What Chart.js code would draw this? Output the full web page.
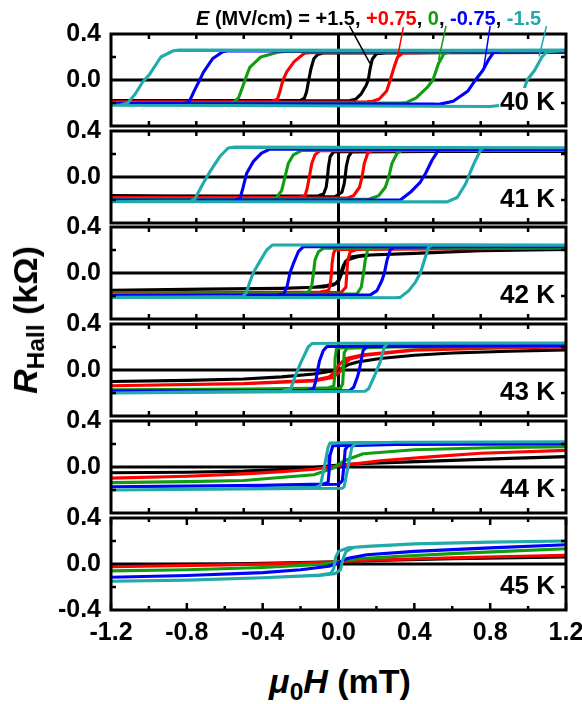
<!DOCTYPE html>
<html><head><meta charset="utf-8">
<script src="https://cdn.jsdelivr.net/npm/chart.js@4/dist/chart.umd.min.js"></script>
<style>
html,body{margin:0;padding:0;background:#fff;}
#wrap{position:relative;width:582px;height:704px;overflow:hidden;font-family:'Liberation Sans',Arial,sans-serif;font-weight:bold;color:#000;}
canvas{position:absolute;left:0;}
.tlab{position:absolute;right:26px;font-size:26px;line-height:26px;background:#fff;padding:0 1px;white-space:nowrap;}
#legend{position:absolute;left:196px;top:6px;font-size:20px;line-height:24px;white-space:nowrap;}
#ytitle{position:absolute;left:27px;top:320px;font-size:34px;line-height:36px;white-space:nowrap;transform:translate(-50%,-50%) rotate(-90deg);}
#xtitle{position:absolute;left:340px;top:683px;font-size:34px;line-height:36px;white-space:nowrap;transform:translate(-50%,-50%);}
.sb{font-size:0.72em;position:relative;top:0.3em;}
</style></head>
<body><div id="wrap">
<div id="legend"><i>E</i> (MV/cm) = +1.5, <span style="color:#ff0000">+0.75</span>, <span style="color:#109e10">0</span>, <span style="color:#0000ff">-0.75</span>, <span style="color:#22aaaa">-1.5</span></div>
<div id="ytitle"><i>R</i><span class="sb">Hall</span> (kΩ)</div>
<div id="xtitle"><i>μ</i><span class="sb">0</span><i>H</i> (mT)</div>
</div>
<script>
// ---------- data (x in mT, y in kOhm) ----------
const fieldLabels = ['+1.5', '+0.75', '0', '-0.75', '-1.5'];
const tempLabels = ['40 K', '41 K', '42 K', '43 K', '44 K', '45 K'];
const yTickLabels = ['-0.4', '0.0', '0.4'];
const xTickLabels = ['-1.2', '-0.8', '-0.4', '0.0', '0.4', '0.8', '1.2'];
const upperXTicks = [-1.0, -0.75, -0.5, -0.25, 0.25, 0.5, 0.75, 1.0];

// 40 K
const T40_p150 = [[1.2,0.24],[0.6,0.238],[-0.08,0.235],[-0.11,0.222],[-0.13,0.185],[-0.145,0.1],[-0.157,0],[-0.168,-0.1],[-0.18,-0.158],[-0.2,-0.176],[-0.6,-0.178],[-1.2,-0.178],[-0.6,-0.18],[0.06,-0.178],[0.09,-0.168],[0.12,-0.12],[0.145,-0.05],[0.157,0],[0.167,0.1],[0.178,0.18],[0.2,0.228],[0.25,0.236],[0.6,0.238],[1.2,0.24]];
const T40_p075 = [[1.2,0.245],[0.6,0.242],[-0.15,0.238],[-0.18,0.232],[-0.234,0.16],[-0.273,0.07],[-0.293,0],[-0.308,-0.095],[-0.322,-0.165],[-0.35,-0.187],[-0.7,-0.19],[-1.2,-0.19],[-0.6,-0.192],[0.15,-0.19],[0.18,-0.185],[0.215,-0.165],[0.254,-0.095],[0.273,0],[0.293,0.11],[0.312,0.2],[0.34,0.235],[0.6,0.242],[1.2,0.245]];
const T40_0 = [[1.2,0.25],[0.6,0.248],[-0.28,0.248],[-0.32,0.242],[-0.41,0.2],[-0.468,0.11],[-0.488,0.024],[-0.507,-0.065],[-0.527,-0.154],[-0.556,-0.198],[-0.8,-0.2],[-1.2,-0.2],[-0.6,-0.2],[0.33,-0.2],[0.36,-0.195],[0.41,-0.155],[0.468,-0.065],[0.498,0],[0.527,0.142],[0.556,0.228],[0.59,0.246],[0.8,0.249],[1.2,0.25]];
const T40_m075 = [[1.2,0.252],[0.6,0.252],[-0.58,0.255],[-0.61,0.245],[-0.663,0.187],[-0.712,0.068],[-0.732,0],[-0.761,-0.095],[-0.79,-0.198],[-0.82,-0.205],[-1.2,-0.205],[-0.6,-0.207],[0.5,-0.21],[0.53,-0.212],[0.605,-0.184],[0.683,-0.095],[0.722,0],[0.761,0.083],[0.79,0.172],[0.82,0.244],[0.86,0.252],[1.2,0.252]];
const T40_m150 = [[1.2,0.26],[0.6,0.258],[-0.84,0.26],[-0.87,0.255],[-0.937,0.2],[-0.995,0.053],[-1.034,-0.02],[-1.073,-0.124],[-1.112,-0.2],[-1.15,-0.218],[-1.2,-0.22],[-0.6,-0.222],[0.8,-0.23],[0.917,-0.21],[0.976,-0.095],[0.995,0],[1.034,0.083],[1.073,0.2],[1.1,0.246],[1.2,0.26]];
// 41 K
const T41_p150 = [[1.2,0.222],[0.5,0.222],[0,0.221],[-0.026,0.218],[-0.044,0.178],[-0.053,0.089],[-0.058,0],[-0.065,-0.089],[-0.079,-0.148],[-0.106,-0.163],[-0.6,-0.165],[-1.2,-0.163],[-0.6,-0.168],[-0.02,-0.172],[0.018,-0.133],[0.03,-0.06],[0.035,0],[0.041,0.089],[0.053,0.178],[0.07,0.218],[0.5,0.222],[1.2,0.222]];
const T41_p075 = [[1.2,0.23],[0.5,0.23],[-0.097,0.229],[-0.124,0.193],[-0.141,0.118],[-0.154,0],[-0.164,-0.089],[-0.176,-0.163],[-0.212,-0.178],[-0.7,-0.178],[-1.2,-0.178],[-0.6,-0.18],[0.044,-0.184],[0.079,-0.163],[0.111,-0.089],[0.124,0],[0.136,0.118],[0.154,0.207],[0.176,0.229],[0.6,0.23],[1.2,0.23]];
const T41_0 = [[1.2,0.235],[0.5,0.233],[-0.194,0.231],[-0.238,0.193],[-0.265,0.118],[-0.282,0],[-0.3,-0.119],[-0.326,-0.178],[-0.362,-0.19],[-0.8,-0.19],[-1.2,-0.19],[-0.6,-0.19],[0.159,-0.193],[0.212,-0.163],[0.247,-0.089],[0.265,0],[0.282,0.118],[0.309,0.207],[0.335,0.231],[0.7,0.234],[1.2,0.235]];
const T41_m075 = [[1.2,0.24],[0.5,0.24],[-0.362,0.243],[-0.406,0.207],[-0.45,0.133],[-0.485,0.03],[-0.503,-0.089],[-0.52,-0.19],[-0.55,-0.2],[-1.2,-0.2],[-0.6,-0.2],[0.326,-0.2],[0.379,-0.133],[0.432,-0.044],[0.459,0.03],[0.494,0.148],[0.529,0.237],[0.8,0.24],[1.2,0.24]];
const T41_m150 = [[1.2,0.255],[0.5,0.256],[-0.547,0.26],[-0.582,0.252],[-0.626,0.178],[-0.679,0.044],[-0.715,-0.059],[-0.759,-0.193],[-0.78,-0.21],[-1.2,-0.215],[-0.6,-0.215],[0.573,-0.216],[0.626,-0.178],[0.671,-0.059],[0.688,0.015],[0.715,0.119],[0.75,0.237],[0.768,0.255],[1.2,0.255]];
// 42 K
const T42_p150 = [[1.2,0.205],[0.75,0.194],[0.4,0.17],[0.17,0.156],[0.1,0.141],[0.045,0.112],[0.026,0.068],[0.012,0],[0,-0.065],[-0.018,-0.094],[-0.062,-0.109],[-0.13,-0.124],[-0.3,-0.135],[-0.7,-0.14],[-1.2,-0.15],[-0.7,-0.14],[-0.3,-0.132],[-0.08,-0.122],[-0.026,-0.105],[0,-0.075],[0.018,0],[0.035,0.097],[0.062,0.138],[0.13,0.155],[0.4,0.172],[0.75,0.195],[1.2,0.205]];
const T42_p075 = [[1.2,0.215],[0.5,0.21],[0.1,0.206],[-0.018,0.203],[-0.026,0.171],[-0.034,0.082],[-0.037,0],[-0.044,-0.109],[-0.053,-0.153],[-0.097,-0.165],[-0.5,-0.17],[-1.2,-0.172],[-0.5,-0.17],[0.015,-0.168],[0.039,-0.124],[0.044,0],[0.049,0.112],[0.062,0.185],[0.097,0.205],[0.5,0.21],[1.2,0.215]];
const T42_0 = [[1.2,0.22],[0.5,0.218],[-0.079,0.215],[-0.106,0.185],[-0.124,0.112],[-0.132,0],[-0.141,-0.109],[-0.159,-0.168],[-0.194,-0.178],[-0.6,-0.18],[-1.2,-0.182],[-0.6,-0.182],[0.097,-0.182],[0.12,-0.124],[0.132,0],[0.141,0.112],[0.154,0.205],[0.18,0.216],[0.6,0.218],[1.2,0.22]];
const T42_m075 = [[1.2,0.228],[0.5,0.228],[-0.185,0.229],[-0.212,0.185],[-0.238,0.082],[-0.256,0],[-0.27,-0.109],[-0.288,-0.182],[-0.32,-0.19],[-1.2,-0.195],[-0.6,-0.196],[0.168,-0.19],[0.203,-0.153],[0.229,-0.065],[0.242,0],[0.256,0.112],[0.273,0.2],[0.291,0.224],[0.6,0.228],[1.2,0.228]];
const T42_m150 = [[1.2,0.242],[0.5,0.245],[-0.348,0.244],[-0.379,0.2],[-0.432,0.053],[-0.45,0],[-0.468,-0.079],[-0.485,-0.168],[-0.503,-0.205],[-0.8,-0.21],[-1.2,-0.212],[-0.6,-0.212],[0.3,-0.215],[0.326,-0.212],[0.371,-0.153],[0.406,-0.079],[0.432,0],[0.459,0.141],[0.476,0.229],[0.5,0.244],[1.2,0.242]];
// 43 K
const T43_p150 = [[-1.2,-0.1],[-0.8,-0.09],[-0.5,-0.078],[-0.3,-0.06],[-0.13,-0.035],[0,0],[0.05,0.045],[0.1,0.07],[0.22,0.1],[0.4,0.128],[0.6,0.148],[0.9,0.163],[1.2,0.175]];
const T43_p075 = [[1.2,0.2],[0.8,0.192],[0.4,0.175],[0.13,0.132],[0.04,0.1],[0,0.04],[-0.02,-0.02],[-0.05,-0.06],[-0.13,-0.09],[-0.5,-0.117],[-1.2,-0.137],[-0.5,-0.12],[-0.13,-0.095],[-0.03,-0.065],[0.01,-0.01],[0.03,0.05],[0.06,0.095],[0.14,0.128],[0.4,0.172],[0.8,0.19],[1.2,0.2]];
const T43_0 = [[1.2,0.205],[0.3,0.2],[0.05,0.195],[-0.01,0.19],[-0.018,0.1],[-0.02,-0.05],[-0.025,-0.14],[-0.06,-0.158],[-0.5,-0.166],[-1.2,-0.172],[-0.5,-0.168],[0.01,-0.16],[0.022,-0.12],[0.026,0],[0.03,0.15],[0.045,0.19],[0.3,0.2],[1.2,0.205]];
const T43_m075 = [[1.2,0.212],[0.2,0.21],[-0.06,0.205],[-0.08,0.17],[-0.1,0.08],[-0.11,0],[-0.12,-0.1],[-0.132,-0.162],[-0.16,-0.176],[-1.2,-0.182],[-0.5,-0.18],[0.06,-0.178],[0.08,-0.15],[0.1,-0.06],[0.11,0],[0.12,0.09],[0.13,0.17],[0.15,0.205],[1.2,0.212]];
const T43_m150 = [[1.2,0.235],[0,0.232],[-0.14,0.23],[-0.16,0.2],[-0.2,0.06],[-0.23,-0.06],[-0.252,-0.165],[-0.3,-0.185],[-0.8,-0.192],[-1.2,-0.2],[-0.6,-0.192],[0.14,-0.185],[0.16,-0.16],[0.19,-0.05],[0.22,0.07],[0.242,0.2],[0.26,0.232],[0.6,0.235],[1.2,0.235]];
// 44 K
const T44_p150 = [[-1.2,-0.05],[-0.8,-0.045],[-0.5,-0.036],[-0.2,-0.015],[0,0.018],[0.1,0.028],[0.3,0.04],[0.6,0.058],[0.9,0.075],[1.2,0.09]];
const T44_p075 = [[-1.2,-0.097],[-0.8,-0.08],[-0.5,-0.06],[-0.3,-0.04],[-0.13,-0.02],[0,0.01],[0.22,0.055],[0.5,0.09],[0.75,0.12],[1.2,0.145]];
const T44_0 = [[-1.2,-0.136],[-0.8,-0.127],[-0.5,-0.118],[-0.13,-0.067],[-0.03,-0.012],[0.03,0.055],[0.13,0.115],[0.4,0.15],[0.8,0.168],[1.2,0.176]];
const T44_m075 = [[1.2,0.2],[0.3,0.195],[0.05,0.19],[-0.03,0.185],[-0.045,0.1],[-0.05,-0.05],[-0.055,-0.135],[-0.08,-0.148],[-0.4,-0.16],[-1.2,-0.172],[-0.4,-0.16],[0,-0.15],[0.02,-0.12],[0.028,0],[0.035,0.15],[0.05,0.185],[0.3,0.195],[1.2,0.2]];
const T44_m150 = [[1.2,0.22],[0.3,0.215],[0.1,0.213],[-0.045,0.208],[-0.055,0.17],[-0.075,0],[-0.095,-0.16],[-0.12,-0.176],[-0.5,-0.19],[-1.2,-0.2],[-0.5,-0.19],[0.02,-0.185],[0.03,-0.17],[0.05,0],[0.07,0.17],[0.09,0.205],[0.3,0.215],[1.2,0.22]];
// 45 K
const T45_p150 = [[-1.2,-0.01],[-0.6,0],[-0.2,0.012],[0,0.02],[0.2,0.03],[0.6,0.045],[1.2,0.062]];
const T45_p075 = [[-1.2,-0.024],[-0.6,-0.008],[-0.2,0.008],[0,0.02],[0.2,0.035],[0.6,0.055],[1.2,0.076]];
const T45_0 = [[-1.2,-0.06],[-0.8,-0.05],[-0.4,-0.03],[-0.1,-0.005],[0,0.02],[0.1,0.045],[0.3,0.065],[0.6,0.09],[0.9,0.112],[1.2,0.133]];
const T45_m075 = [[-1.2,-0.115],[-0.8,-0.1],[-0.4,-0.075],[-0.2,-0.05],[-0.05,-0.02],[0,0.01],[0.05,0.05],[0.15,0.08],[0.4,0.11],[0.8,0.14],[1.2,0.168]];
const T45_m150 = [[1.2,0.2],[0.8,0.19],[0.4,0.175],[0.15,0.155],[0.05,0.14],[0,0.11],[-0.015,0.06],[-0.025,-0.04],[-0.04,-0.08],[-0.1,-0.095],[-0.4,-0.12],[-0.8,-0.14],[-1.2,-0.15],[-0.8,-0.14],[-0.4,-0.12],[-0.1,-0.1],[-0.02,-0.085],[0.01,-0.05],[0.025,0.05],[0.04,0.11],[0.08,0.145],[0.4,0.175],[0.8,0.19],[1.2,0.2]];

// leader lines from legend entries to the 40 K loops (data units of the 40 K panel)
const leaderStart = [[0.058,0.47],[0.342,0.46],[0.567,0.47],[0.80,0.47],[1.097,0.47]];
const leaderEnd = [[0.166,0.144],[0.309,0.174],[0.528,0.174],[0.764,0.083],[1.058,0.204]];

const panelSeries = [
  [T40_p150, T40_p075, T40_0, T40_m075, T40_m150],
  [T41_p150, T41_p075, T41_0, T41_m075, T41_m150],
  [T42_p150, T42_p075, T42_0, T42_m075, T42_m150],
  [T43_p150, T43_p075, T43_0, T43_m075, T43_m150],
  [T44_p150, T44_p075, T44_0, T44_m075, T44_m150],
  [T45_p150, T45_p075, T45_0, T45_m075, T45_m150]
];

// ---------- styles / layout ----------
const seriesColors = ['#000000', '#ff0000', '#109e10', '#0000ff', '#22aaaa'];
const panelTops = [34, 131, 227, 324, 421, 518];
const PANEL_H = 92, PLOT_LEFT = 111, PLOT_RIGHT = 566, PAD = 30, CANVAS_W = 620, XAXIS_H = 46;
const FONT = "'Liberation Sans', Arial, sans-serif";

const framePlugin = {
  id: 'frame',
  beforeDatasetsDraw(chart) {
    const {ctx, chartArea: a, scales: {x, y}} = chart;
    ctx.save();
    ctx.strokeStyle = '#000'; ctx.lineWidth = 3;
    const y0 = y.getPixelForValue(0), x0 = x.getPixelForValue(0);
    ctx.beginPath();
    ctx.moveTo(a.left, y0); ctx.lineTo(a.right, y0);
    ctx.moveTo(x0, a.top); ctx.lineTo(x0, a.bottom);
    ctx.stroke();
    ctx.restore();
  },
  afterDatasetsDraw(chart, args, opts) {
    const {ctx, chartArea: a, scales: {x, y}} = chart;
    ctx.save();
    ctx.strokeStyle = '#000';
    ctx.lineWidth = 3;
    ctx.strokeRect(a.left, a.top, a.right - a.left, a.bottom - a.top);
    ctx.lineWidth = 2.5;
    ctx.beginPath();
    y.ticks.forEach(t => {
      const v = t.value;
      if (Math.abs(v) < 1e-6 || Math.abs(Math.abs(v) - 0.4) < 1e-6) return;
      const py = y.getPixelForValue(v);
      ctx.moveTo(a.left, py); ctx.lineTo(a.left + 5, py);
      ctx.moveTo(a.right, py); ctx.lineTo(a.right - 5, py);
    });
    const xt = (v, len) => {
      const px = x.getPixelForValue(v);
      ctx.moveTo(px, a.top); ctx.lineTo(px, a.top + len);
      ctx.moveTo(px, a.bottom); ctx.lineTo(px, a.bottom - len);
    };
    if (opts.last) {
      const tv = x.ticks.map(t => t.value);
      tv.forEach((v, i) => {
        xt(v, 7);
        if (i < tv.length - 1) xt((v + tv[i + 1]) / 2, 4);
      });
    } else {
      upperXTicks.forEach(v => xt(v, 5));
    }
    ctx.stroke();
    if (opts.leaders) {
      ctx.lineWidth = 1.5;
      leaderStart.forEach((s, i) => {
        const e = leaderEnd[i];
        ctx.strokeStyle = seriesColors[i];
        ctx.beginPath();
        ctx.moveTo(x.getPixelForValue(s[0]), y.getPixelForValue(s[1]));
        ctx.lineTo(x.getPixelForValue(e[0]), y.getPixelForValue(e[1]));
        ctx.stroke();
      });
    }
    ctx.restore();
  }
};

const wrap = document.getElementById('wrap');
panelSeries.forEach((series, p) => {
  const last = p === panelSeries.length - 1;
  const cv = document.createElement('canvas');
  cv.width = CANVAS_W;
  cv.height = PAD + PANEL_H + (last ? XAXIS_H : PAD);
  cv.style.top = (panelTops[p] - PAD) + 'px';
  wrap.insertBefore(cv, wrap.firstChild);
  const datasets = series.map((pts, s) => ({
    label: fieldLabels[s],
    data: pts.map(q => ({x: q[0], y: q[1]})),
    borderColor: seriesColors[s],
    borderWidth: 3.1,
    borderJoinStyle: 'round',
    showLine: true,
    pointRadius: 0,
    tension: 0,
    fill: false,
    order: series.length - s
  }));
  new Chart(cv, {
    type: 'scatter',
    data: {datasets},
    plugins: [framePlugin],
    options: {
      responsive: false,
      animation: false,
      devicePixelRatio: 1,
      layout: {padding: {top: PAD, bottom: last ? 0 : PAD, left: 0, right: CANVAS_W - PLOT_RIGHT}},
      plugins: {legend: {display: false}, tooltip: {enabled: false}, frame: {last, leaders: p === 0}},
      scales: {
        x: {
          type: 'linear', min: -1.2, max: 1.2, display: last,
          grid: {display: false, drawTicks: false}, border: {display: false},
          afterFit: s => { s.height = last ? XAXIS_H : 0; },
          ticks: {
            stepSize: 0.4, autoSkip: false, maxRotation: 0, padding: 8, color: '#000',
            font: {family: FONT, size: 25, weight: 'bold'},
            callback: (v, i) => xTickLabels[i]
          }
        },
        y: {
          type: 'linear', min: -0.4, max: 0.4,
          grid: {display: false, drawTicks: false}, border: {display: false},
          afterFit: s => { s.width = PLOT_LEFT; },
          ticks: {
            stepSize: 0.2, autoSkip: false, padding: 10, color: '#000',
            font: {family: FONT, size: 25, weight: 'bold'},
            callback: (v) => {
              if (Math.abs(v - 0.4) < 1e-6) return yTickLabels[2];
              if (Math.abs(v) < 1e-6) return yTickLabels[1];
              if (last && Math.abs(v + 0.4) < 1e-6) return yTickLabels[0];
              return '';
            }
          }
        }
      }
    }
  });
  const lab = document.createElement('div');
  lab.className = 'tlab';
  lab.textContent = tempLabels[p];
  lab.style.top = (panelTops[p] + PANEL_H / 2 + 21 - 13) + 'px';
  wrap.appendChild(lab);
});
</script>
</body></html>
